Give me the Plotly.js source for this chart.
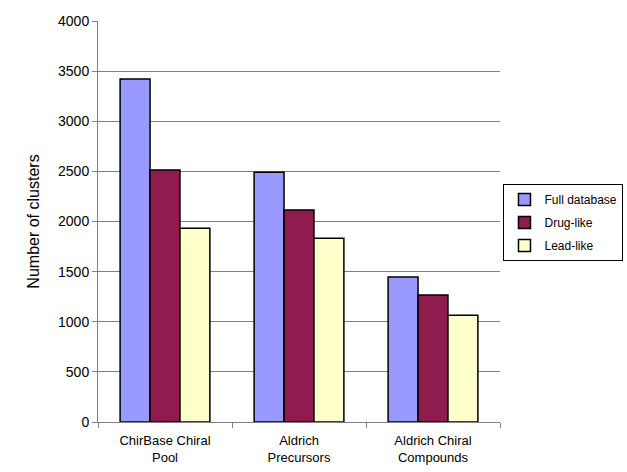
<!DOCTYPE html>
<html>
<head>
<meta charset="utf-8">
<script src="https://cdn.plot.ly/plotly-3.0.1.min.js"></script>
<style>html,body{margin:0;padding:0;background:#fff;}#chart{width:627px;height:472px;}</style>
</head>
<body>
<div id="chart"></div>
<script>
const categories = ["ChirBase Chiral<br>Pool", "Aldrich<br>Precursors", "Aldrich Chiral<br>Compounds"];
const seriesNames = ["Full database", "Drug-like", "Lead-like"];
const fullDatabase = [3421, 2491, 1446];
const drugLike = [2514, 2115, 1267];
const leadLike = [1932, 1832, 1064];
const yTicks = [0, 500, 1000, 1500, 2000, 2500, 3000, 3500, 4000];
const colors = ["#9999ff", "#8f1b4f", "#ffffcc"];

const values = [fullDatabase, drugLike, leadLike];
const traces = values.map((v, i) => ({
  type: "bar",
  name: seriesNames[i],
  x: categories,
  y: v,
  legendgroup: "g" + i,
  marker: {color: colors[i], line: {color: "#000", width: 1.5}},
  hoverinfo: "none"
}));

const font = "Liberation Sans, Arial, sans-serif";
const layout = {
  width: 627, height: 472,
  margin: {l: 98, r: 127, t: 21, b: 50},
  paper_bgcolor: "#fff", plot_bgcolor: "#fff",
  font: {family: font, color: "#000"},
  barmode: "group",
  bargap: 0.33,
  bargroupgap: 0,
  showlegend: true,
  legend: {
    xref: "container", yref: "container",
    x: 0.803, xanchor: "left", y: 0.61, yanchor: "top",
    bordercolor: "#000", borderwidth: 1, bgcolor: "#fff",
    font: {family: font, size: 12, color: "#000"},
    traceorder: "grouped", tracegroupgap: 4,
    itemwidth: 30
  },
  xaxis: {
    type: "category",
    showline: true, linecolor: "#808080", linewidth: 1,
    ticks: "outside", tickson: "boundaries", ticklen: 5, tickcolor: "#808080",
    tickfont: {family: font, size: 13, color: "#000"},
    ticklabelstandoff: 6,
    showgrid: false, zeroline: false, fixedrange: true
  },
  yaxis: {
    range: [0, 4000],
    tickvals: yTicks, ticktext: yTicks.map(String),
    showline: true, linecolor: "#808080", linewidth: 1,
    ticks: "outside", ticklen: 5, tickcolor: "#808080",
    showgrid: true, gridcolor: "#808080", gridwidth: 1,
    zeroline: false,
    tickfont: {family: font, size: 14, color: "#000"},
    title: {text: "Number of clusters", font: {family: font, size: 16, color: "#000"}, standoff: 14},
    fixedrange: true
  },
  shapes: [{
    type: "line", xref: "paper", yref: "y", x0: 0.003, x1: 1.01, y0: 4000, y1: 4000,
    line: {color: "#fff", width: 2}, layer: "above"
  }]
};

Plotly.newPlot("chart", traces, layout, {displayModeBar: false, staticPlot: true});
</script>
</body>
</html>
